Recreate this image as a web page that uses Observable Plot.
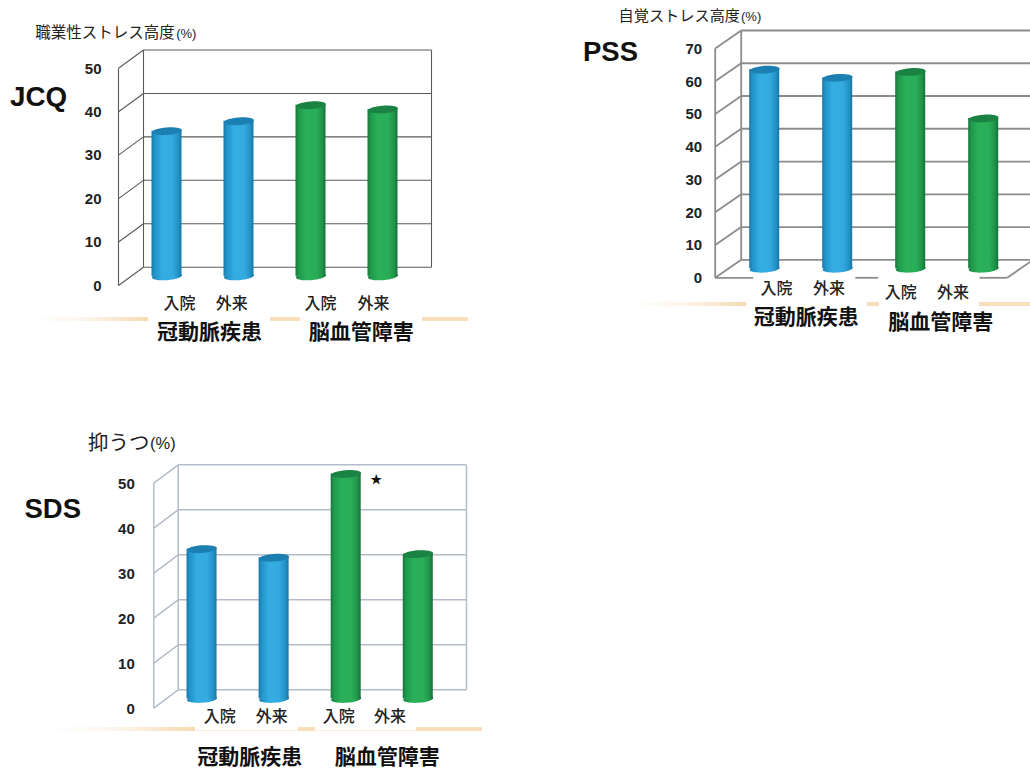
<!DOCTYPE html>
<html lang="ja">
<head>
<meta charset="utf-8">
<script src="https://cdn.jsdelivr.net/npm/d3@7"></script>
<script src="https://cdn.jsdelivr.net/npm/@observablehq/plot@0.6"></script>
<style>
  html, body { margin: 0; padding: 0; background: #fff; }
  #page { position: relative; width: 1030px; height: 776px; overflow: hidden; background: #fff; }
  #page > svg { position: absolute; background: transparent; max-width: none; }
  .strip { position: absolute; }
</style>
</head>
<body>
<div id="page"></div>
<script>
// Survey results: share of patients scoring high, by disease and care setting.
const settings = ["入院", "外来", "入院", "外来"];
const diseases = ["冠動脈疾患", "脳血管障害"];
const diseaseOfBar = [0, 0, 1, 1];

const jcqValues = [33.4, 35.7, 39.4, 38.4];
const pssValues = [60.8, 58.3, 60.1, 45.9];
const sdsValues = [33.3, 31.4, 50.0, 32.2];

const jcqTicks = [0, 10, 20, 30, 40, 50];
const pssTicks = [0, 10, 20, 30, 40, 50, 60, 70];
const sdsTicks = [0, 10, 20, 30, 40, 50];

const SANS = "'Liberation Sans', Arial, sans-serif";
const CJK = "'Noto Sans CJK JP', sans-serif";
const TEXT = "#222";

// Placement of each panel on the page, in pixels.
const panels = [
  {
    values: jcqValues, ticks: jcqTicks, name: "JCQ",
    box: {left: 0, top: 0, width: 480, height: 350},
    frame: {left: 118, right: 431, top: 49.5, bottom: 285},
    depth: {x: 25, y: 18.3}, tickPadding: 17,
    gridColor: "#5a5a5a", gridWidth: 1.1,
    nameAt: [9.5, 97], nameSize: 27.8,
    title: {main: "職業性ストレス高度", unit: "(%)", x: 34.7, y: 33, size: 15.5, unitSize: 13, gap: 141},
    settingsAt: [[179, 303], [231.3, 303], [320, 303], [373, 303]],
    diseasesAt: [[209, 332], [360.7, 332]],
    strips: [
      {x1: 28, x2: 148, y: 317, h: 4, fade: true},
      {x1: 270, x2: 300, y: 317, h: 4},
      {x1: 422, x2: 468, y: 317, h: 4}
    ]
  },
  {
    values: pssValues, ticks: pssTicks, name: "PSS",
    box: {left: 570, top: 0, width: 470, height: 340},
    frame: {left: 714.7, right: 1032.7, top: 30, bottom: 277.3},
    depth: {x: 26, y: 18}, tickPadding: 13,
    gridColor: "#8c8c8c", gridWidth: 1.8,
    floorParts: [[0, 0.52], [1.92, 2.23], [3.62, 4]],
    nameAt: [582.5, 52], nameSize: 27.5,
    title: {main: "自覚ストレス高度", unit: "(%)", x: 618, y: 15.5, size: 15.2, unitSize: 13, gap: 122.5},
    settingsAt: [[776, 288], [828.6, 288], [900.3, 292.3], [952.6, 292.3]],
    diseasesAt: [[805.7, 316.7], [940.2, 321.7]],
    strips: [
      {x1: 625, x2: 746, y: 302, h: 3.5, fade: true},
      {x1: 867, x2: 879, y: 302, h: 3.5},
      {x1: 979, x2: 1030, y: 302, h: 3.5}
    ]
  },
  {
    values: sdsValues, ticks: sdsTicks, name: "SDS",
    box: {left: 0, top: 420, width: 490, height: 356},
    frame: {left: 153.3, right: 466, top: 464.3, bottom: 707.7},
    depth: {x: 24.4, y: 18.4}, tickPadding: 19,
    gridColor: "#b4bcc9", gridWidth: 1.5,
    nameAt: [24, 509], nameSize: 27.5,
    title: {main: "抑うつ", unit: "(%)", x: 87.5, y: 443, size: 20.5, unitSize: 16.5, gap: 62},
    settingsAt: [[219.3, 716.7], [271.3, 716.7], [338.3, 716.7], [389.6, 716.7]],
    diseasesAt: [[249.3, 756.7], [386.7, 756.7]],
    starAt: [375.7, 479.5],
    strips: [
      {x1: 45, x2: 195, y: 727, h: 3.5, fade: true},
      {x1: 195, x2: 298, y: 729.5, h: 1.5, pale: true},
      {x1: 298, x2: 315, y: 727, h: 3.5},
      {x1: 315, x2: 416, y: 729.5, h: 1.5, pale: true},
      {x1: 416, x2: 482, y: 727, h: 3.5}
    ]
  }
];

// Shared cylinder shading, referenced from the bar marks by id.
const page = document.getElementById("page");
const bodyStops = [
  [[0, "#1a76a6"], [0.1, "#2193c9"], [0.35, "#35ade3"], [0.7, "#33a9df"], [0.9, "#2190c4"], [1, "#1873a2"]],
  [[0, "#16743b"], [0.1, "#1f984a"], [0.35, "#2ab05a"], [0.7, "#29ad58"], [0.9, "#1e9247"], [1, "#146e39"]]
];
const topColors = ["#1b80b1", "#1a8344"];
const SVGNS = "http://www.w3.org/2000/svg";
const defsHost = document.createElementNS(SVGNS, "svg");
defsHost.setAttribute("width", 0);
defsHost.setAttribute("height", 0);
const defs = defsHost.appendChild(document.createElementNS(SVGNS, "defs"));
bodyStops.forEach((stops, i) => {
  const g = defs.appendChild(document.createElementNS(SVGNS, "linearGradient"));
  g.id = `cylinder${i}`;
  for (const [offset, color] of stops) {
    const s = g.appendChild(document.createElementNS(SVGNS, "stop"));
    s.setAttribute("offset", offset);
    s.setAttribute("stop-color", color);
  }
});
page.appendChild(defsHost);

// A slightly tilted ellipse used for the cylinder ends.
function capSymbol(rx, ry, degrees) {
  const a = degrees * Math.PI / 180, c = Math.cos(a), s = Math.sin(a), k = 0.5523;
  const p = (x, y) => [x * c - y * s, x * s + y * c];
  return {
    draw(ctx) {
      ctx.moveTo(...p(rx, 0));
      ctx.bezierCurveTo(...p(rx, k * ry), ...p(k * rx, ry), ...p(0, ry));
      ctx.bezierCurveTo(...p(-k * rx, ry), ...p(-rx, k * ry), ...p(-rx, 0));
      ctx.bezierCurveTo(...p(-rx, -k * ry), ...p(-k * rx, -ry), ...p(0, -ry));
      ctx.bezierCurveTo(...p(k * rx, -ry), ...p(rx, -k * ry), ...p(rx, 0));
      ctx.closePath();
    }
  };
}

function drawPanel(cfg) {
  const {box, frame, depth, ticks, values} = cfg;
  const margin = {
    left: frame.left - box.left,
    right: box.left + box.width - frame.right,
    top: frame.top - box.top,
    bottom: box.top + box.height - frame.bottom
  };

  // Value and band units: one band per bar; the depth of the box is expressed in those units.
  const bandPx = (frame.right - frame.left - depth.x) / 4;
  const topTick = ticks[ticks.length - 1];
  const unitPx = (frame.bottom - frame.top - depth.y) / topTick;
  const depthX = depth.x / bandPx;
  const depthY = depth.y / unitPx;
  const barHalf = 15 / bandPx;

  const bars = values.map((value, i) => ({
    i, value,
    disease: diseaseOfBar[i],
    cx: i + 0.5 + depthX / 2,
    base: depthY / 2,
    top: value + depthY / 2
  }));

  // Back wall, left wall and floor edges of the box.
  const wall = [
    ...ticks.map((t) => ({x1: depthX, y1: t + depthY, x2: 4 + depthX, y2: t + depthY})),
    ...ticks.map((t) => ({x1: 0, y1: t, x2: depthX, y2: t + depthY})),
    {x1: 0, y1: 0, x2: 0, y2: topTick},
    {x1: depthX, y1: depthY, x2: depthX, y2: topTick + depthY},
    {x1: 4 + depthX, y1: depthY, x2: 4 + depthX, y2: topTick + depthY}
  ];
  if (cfg.floorParts) {
    for (const [a, b] of cfg.floorParts) wall.push({x1: a, y1: 0, x2: b, y2: 0});
    wall.push({x1: 4, y1: 0, x2: 4 + depthX, y2: depthY});
  }

  // Text placed by page position, relative to the corner of the frame.
  const label = (text, px, py, options) => Plot.text([text], {
    text: (d) => d,
    frameAnchor: "top-left",
    dx: px - frame.left,
    dy: py - frame.top,
    lineAnchor: "middle",
    fill: TEXT,
    ...options
  });

  const cylinders = [0, 1].flatMap((g) => {
    const group = bars.filter((d) => d.disease === g);
    const fill = `url(#cylinder${g})`;
    return [
      Plot.dot(group, {x: "cx", y: "base", r: 1, symbol: capSymbol(15, 3.8, -4), fill, stroke: "none"}),
      Plot.rect(group, {
        x1: (d) => d.cx - barHalf,
        x2: (d) => d.cx + barHalf,
        y1: "base",
        y2: "top",
        fill
      }),
      Plot.dot(group, {x: "cx", y: "top", r: 1, symbol: capSymbol(15, 3.8, -4), fill: topColors[g], stroke: "none"})
    ];
  });

  const t = cfg.title;
  const svg = Plot.plot({
    width: box.width,
    height: box.height,
    marginLeft: margin.left,
    marginRight: margin.right,
    marginTop: margin.top,
    marginBottom: margin.bottom,
    x: {domain: [0, 4 + depthX], axis: null},
    y: {domain: [0, topTick + depthY], label: null},
    style: {background: "transparent", overflow: "visible"},
    marks: [
      Plot.link(wall, {x1: "x1", y1: "y1", x2: "x2", y2: "y2", stroke: cfg.gridColor, strokeWidth: cfg.gridWidth}),
      ...cylinders,
      Plot.axisY(ticks, {
        anchor: "left",
        tickSize: 0,
        tickPadding: cfg.tickPadding,
        dy: 0.5,
        fontSize: 15,
        fontWeight: "bold",
        fontFamily: SANS,
        fill: TEXT,
        tickFormat: (d) => String(d)
      }),
      label(cfg.name, cfg.nameAt[0], cfg.nameAt[1], {
        fontSize: cfg.nameSize, fontWeight: "bold", fontFamily: SANS, textAnchor: "start", fill: "#111"
      }),
      label(t.main, t.x, t.y, {fontSize: t.size, fontFamily: CJK, textAnchor: "start"}),
      label(t.unit, t.x + t.gap, t.y + 0.5, {fontSize: t.unitSize, fontFamily: SANS, textAnchor: "start"}),
      ...settings.map((s, i) => label(s, cfg.settingsAt[i][0], cfg.settingsAt[i][1], {
        fontSize: 16, fontFamily: CJK, fontWeight: 500, textAnchor: "middle"
      })),
      ...diseases.map((s, i) => label(s, cfg.diseasesAt[i][0], cfg.diseasesAt[i][1], {
        fontSize: 21, fontFamily: CJK, fontWeight: "bold", textAnchor: "middle", fill: "#111"
      })),
      ...(cfg.starAt ? [label("★", cfg.starAt[0], cfg.starAt[1], {
        fontSize: 12, fontFamily: CJK, textAnchor: "middle", fill: "#111"
      })] : [])
    ]
  });
  svg.style.left = `${box.left}px`;
  svg.style.top = `${box.top}px`;
  svg.style.height = `${box.height}px`;

  // Pale rules that run under the captions.
  for (const s of cfg.strips) {
    const d = document.createElement("div");
    d.className = "strip";
    d.style.left = `${s.x1}px`;
    d.style.width = `${s.x2 - s.x1}px`;
    d.style.top = `${s.y}px`;
    d.style.height = `${s.h}px`;
    d.style.background = s.fade
      ? "linear-gradient(to right, rgba(247,221,184,0), rgba(247,221,184,0.3) 50%, #f6dab2)"
      : s.pale ? "#fbecd9" : "#f8deba";
    page.appendChild(d);
  }
  page.appendChild(svg);
}

panels.forEach(drawPanel);
</script>
</body>
</html>
